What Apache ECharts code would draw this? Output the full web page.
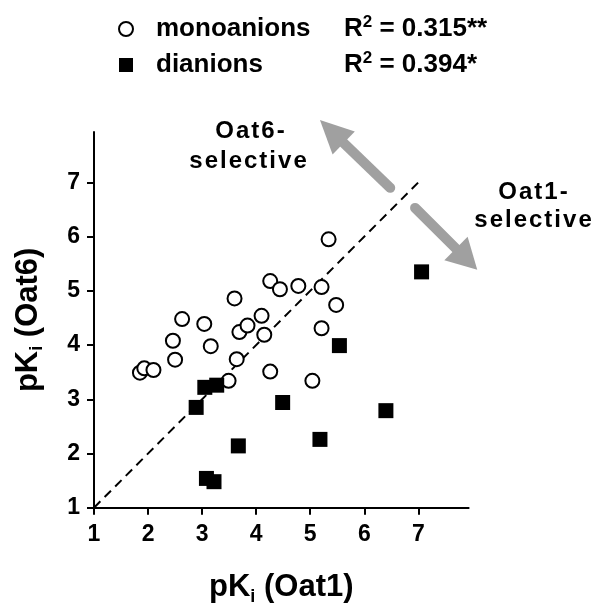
<!DOCTYPE html>
<html><head><meta charset="utf-8">
<script src="https://cdn.jsdelivr.net/npm/echarts@6/dist/echarts.min.js"></script>
<style>html,body{margin:0;padding:0;background:#fff}#c{width:604px;height:614px}</style>
</head><body><div id="c"></div>
<script>
// ---- data ----
const seriesNames = ['monoanions', 'dianions'];
const r2Values = ['0.315**', '0.394*'];
const tickValues = [1, 2, 3, 4, 5, 6, 7];
const identityLine = [[1, 1], [7, 7]];
const monoX = [1.85, 1.93, 2.10, 2.46, 2.50, 2.63, 3.04, 3.16, 3.49, 3.60, 3.64, 3.69, 3.84, 4.10, 4.15, 4.26, 4.26, 4.44, 4.78, 5.21, 5.34, 5.48, 5.21, 5.04];
const monoY = [3.49, 3.57, 3.54, 4.08, 3.73, 4.48, 4.39, 3.98, 3.34, 4.86, 3.74, 4.24, 4.36, 4.54, 4.19, 5.18, 3.51, 5.03, 5.09, 5.07, 5.95, 4.74, 4.31, 3.34];
const diX = [2.89, 3.05, 3.27, 3.08, 3.22, 3.67, 4.49, 5.18, 5.54, 6.40, 7.06];
const diY = [2.85, 3.22, 3.26, 1.54, 1.48, 2.14, 2.94, 2.26, 3.99, 2.79, 5.35];
const annotations = ['Oat6-', 'selective', 'Oat1-', 'selective'];

// ---- chart ----
const FF = "'Liberation Sans', Arial, Helvetica, sans-serif";
const chart = echarts.init(document.getElementById('c'), null, {renderer: 'canvas'});
const pairs = (xs, ys) => xs.map((x, i) => [x, ys[i]]);
const nameRich = {
  a: {fontSize: 31, fontWeight: 'bold', fontFamily: FF, color: '#000', lineHeight: 36},
  b: {fontSize: 18, fontWeight: 'bold', fontFamily: FF, color: '#000', lineHeight: 18, verticalAlign: 'bottom'}
};
const axisCommon = {
  type: 'value', min: 1, max: 7.93, interval: 1,
  axisLine: {show: true, onZero: false, lineStyle: {color: '#000', width: 2}},
  axisTick: {show: true, length: 7, customValues: tickValues, lineStyle: {color: '#000', width: 2}},
  splitLine: {show: false},
  nameLocation: 'middle',
  name: '',
};
const option = {
  animation: false,
  backgroundColor: '#fff',
  grid: {left: 94, right: 135.4, top: 132, bottom: 106.3, containLabel: false},
  legend: {
    orient: 'vertical', left: 113, top: 9, itemWidth: 14, itemHeight: 14, itemGap: 8,
    selectedMode: false,
    data: [
      {name: seriesNames[0], icon: 'circle', itemStyle: {color: '#fff', borderColor: '#000', borderWidth: 2}},
      {name: seriesNames[1], icon: 'rect', itemStyle: {color: '#000', borderWidth: 0}}
    ],
    formatter: function (name) {
      const i = seriesNames.indexOf(name);
      return '{n|' + name + '}{r|R}{s|2}{r| = ' + r2Values[i] + '}';
    },
    textStyle: {
      rich: {
        n: {fontSize: 26, fontWeight: 'bold', fontFamily: FF, color: '#000', lineHeight: 30, width: 188, padding: [0, 0, 0, 18]},
        r: {fontSize: 26, fontWeight: 'bold', fontFamily: FF, color: '#000', lineHeight: 30},
        s: {fontSize: 17, fontWeight: 'bold', fontFamily: FF, color: '#000', lineHeight: 14, verticalAlign: 'top'}
      }
    }
  },
  xAxis: Object.assign({}, axisCommon, {
    name: '{a|pK}{b|i}{a| (Oat1)}', nameGap: 62,
    nameTextStyle: {rich: nameRich},
    axisLabel: {customValues: tickValues, margin: 15, color: '#000', fontSize: 23, fontWeight: 'bold', fontFamily: FF}
  }),
  yAxis: Object.assign({}, axisCommon, {
    name: '{a|pK}{b|i}{a| (Oat6)}', nameGap: 48,
    nameTextStyle: {rich: nameRich},
    axisLabel: {customValues: tickValues, margin: 14, color: '#000', fontSize: 23, fontWeight: 'bold', fontFamily: FF}
  }),
  series: [
    {
      name: 'identity', type: 'line', data: identityLine, symbol: 'none', silent: true, z: 1,
      lineStyle: {color: '#000', width: 2, type: [9, 6]}
    },
    {
      name: seriesNames[0], type: 'scatter', data: pairs(monoX, monoY), symbol: 'circle', symbolSize: 14, z: 3,
      itemStyle: {color: '#fff', borderColor: '#000', borderWidth: 2, opacity: 1}
    },
    {
      name: seriesNames[1], type: 'scatter', data: pairs(diX, diY), symbol: 'rect', symbolSize: 15, z: 4,
      itemStyle: {color: '#000', opacity: 1}
    }
  ]
};
chart.setOption(option);

// ---- annotations: arrows anchored in data coordinates ----
function arrow(tailD, tipD, headLen, headW) {
  const t = chart.convertToPixel({gridIndex: 0}, tailD);
  const p = chart.convertToPixel({gridIndex: 0}, tipD);
  const dx = p[0] - t[0], dy = p[1] - t[1];
  const L = Math.sqrt(dx * dx + dy * dy);
  const ux = dx / L, uy = dy / L;
  const bx = p[0] - ux * headLen, by = p[1] - uy * headLen;
  const nx = -uy, ny = ux;
  const grey = '#a0a0a0';
  return [
    {type: 'line', shape: {x1: t[0], y1: t[1], x2: bx + ux * 2, y2: by + uy * 2},
      style: {stroke: grey, lineWidth: 10, lineCap: 'round'}, z: 10},
    {type: 'polygon', shape: {points: [[p[0], p[1]], [bx + nx * headW / 2, by + ny * headW / 2], [bx - nx * headW / 2, by - ny * headW / 2]]},
      style: {fill: grey}, z: 10}
  ];
}
const spaced = s => s.split('').join('\u200A');
const txt = (s, x, y) => ({type: 'text', x: x, y: y, z: 11,
  style: {text: spaced(s), fontSize: 24, fontWeight: 'bold', fontFamily: FF, fill: '#000', align: 'center', verticalAlign: 'middle'}});
const graphics = [].concat(
  arrow([6.48, 6.90], [5.18, 8.15], 33, 32),
  arrow([6.94, 6.53], [8.09, 5.39], 30, 33),
  [txt(annotations[0], 250, 131), txt(annotations[1], 248, 161), txt(annotations[2], 533, 192), txt(annotations[3], 533, 220)]
);
chart.setOption({graphic: graphics});
</script>
</body></html>
